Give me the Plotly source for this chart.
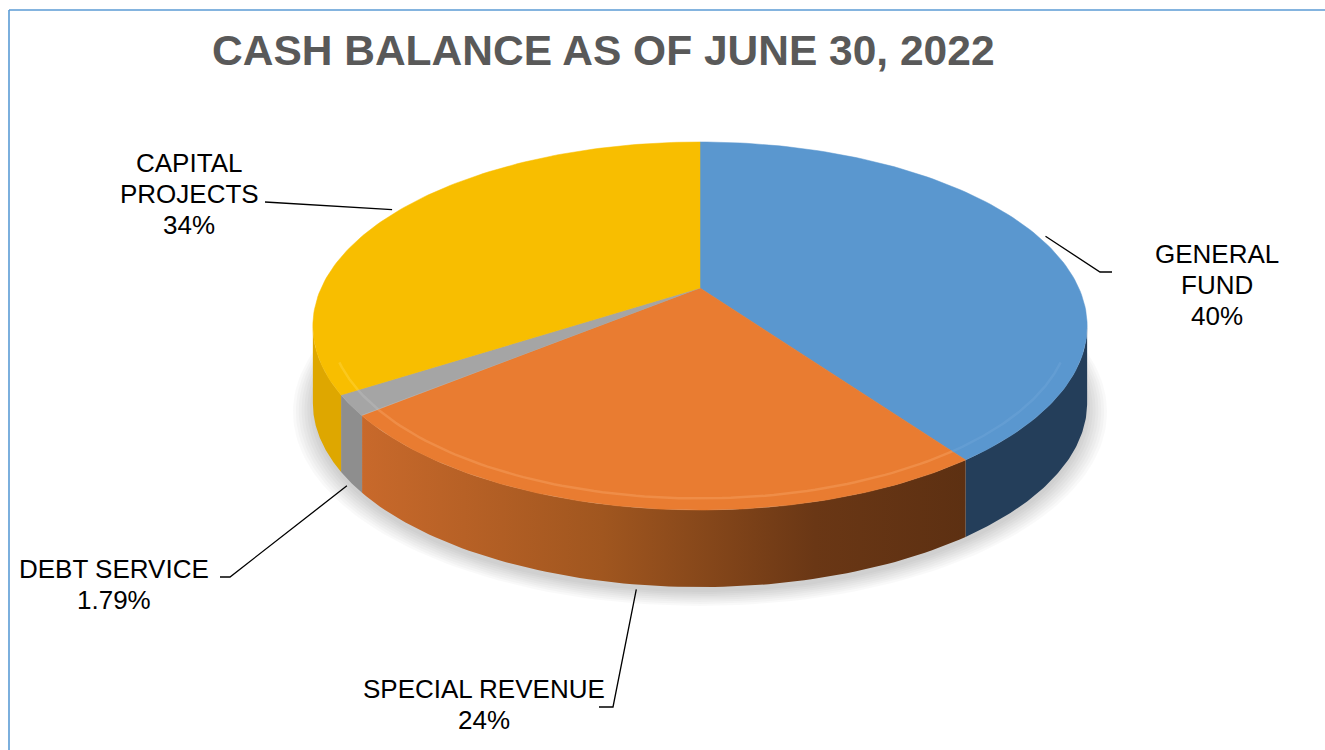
import numpy as np
import plotly.graph_objects as go

categories = ["GENERAL FUND", "SPECIAL REVENUE", "DEBT SERVICE", "CAPITAL PROJECTS"]
values = [40, 24, 1.79, 34]
pct_labels = ["40%", "24%", "1.79%", "34%"]
label_lines = [["GENERAL", "FUND"], ["SPECIAL REVENUE"], ["DEBT SERVICE"], ["CAPITAL", "PROJECTS"]]

TITLE = "CASH BALANCE AS OF JUNE 30, 2022"

TOP_COLORS = ["#5A97CF", "#E97C31", "#A5A5A5", "#F8BE00"]
RIM_COLORS = ["#6FA6D8", "#F7A262", "#BDBDBD", "#FFD640"]
SIDE_COLORS = ["#243E5A", "#9A521F", "#8E8E8E", "#DEA700"]
ORANGE_SIDE = [[0, "#C8692B"], [0.4, "#A0561F"], [0.75, "#6A3715"], [1, "#5D3012"]]
FONT = "Liberation Sans, Arial, sans-serif"

# tilted pie drawn in pixel space (x: 0..1325, y: 0..750 downwards)
CX, CY = 700, 288
A, B, K = 378.8, 176.2, -0.2065
DEPTH = 77
VIS0 = np.degrees(np.arccos(K))
VIS1 = 360 - VIS0

# label block centre, leader elbow points (pixel space)
LABEL_POS = [(1217, 285), (484, 704), (114, 584), (189, 194)]
LEADER_PTS = [[(1100, 272), (1112, 272)], [(613, 707), (599, 707)],
              [(230, 577), (220, 577)], [(265, 202)]]
LINE_STEP = 31


def proj(phi_deg, r=1.0, dz=0.0):
    phi = np.radians(phi_deg)
    X = r * np.sin(phi)
    Y = -r * np.cos(phi)
    d = 1 + K * Y
    return CX + A * X / d, CY + B * Y / d + dz


total = sum(values)
bounds = np.concatenate([[0], np.cumsum(values)]) / total * 360

fig = go.Figure()

# soft shadow under the pie
ring = np.linspace(0, 360, 241)
for i in range(8):
    r = 1.0 + 0.007 * i
    sx, sy = proj(ring, r, DEPTH + 5)
    fig.add_trace(go.Scatter(x=sx, y=sy, mode="lines", fill="toself",
                             fillcolor="rgba(0,0,0,0.022)", line=dict(width=0),
                             hoverinfo="skip", showlegend=False))

# side walls (front half only)
for i in range(len(values)):
    lo, hi = max(bounds[i], VIS0), min(bounds[i + 1], VIS1)
    if lo >= hi:
        continue
    phis = np.linspace(lo, hi, 80)
    tx, ty = proj(phis)
    bx, by = proj(phis[::-1], 1.0, DEPTH)
    kw = dict(fillcolor=SIDE_COLORS[i])
    if i == 1:
        kw = dict(fillgradient=dict(type="horizontal", colorscale=ORANGE_SIDE))
    fig.add_trace(go.Scatter(x=np.concatenate([tx, bx, tx[:1]]),
                             y=np.concatenate([ty, by, ty[:1]]),
                             mode="lines", fill="toself", line=dict(width=0),
                             hoverinfo="skip", showlegend=False, **kw))

# top faces
for i, name in enumerate(categories):
    phis = np.linspace(bounds[i], bounds[i + 1], 120)
    ax, ay = proj(phis)
    fig.add_trace(go.Scatter(x=np.concatenate([[CX], ax, [CX]]),
                             y=np.concatenate([[CY], ay, [CY]]),
                             mode="lines", fill="toself", fillcolor=TOP_COLORS[i],
                             line=dict(width=0.5, color=TOP_COLORS[i]),
                             name=name, hoverinfo="name", showlegend=False))

# bevel highlight along the front rim
for i in range(len(values)):
    lo, hi = max(bounds[i], VIS0 + 12), min(bounds[i + 1], VIS1 - 12)
    if lo >= hi:
        continue
    phis = np.linspace(lo, hi, 80)
    hx, hy = proj(phis, 0.958)
    fig.add_trace(go.Scatter(x=hx, y=hy, mode="lines",
                             line=dict(width=2.5, color=RIM_COLORS[i]), opacity=0.45,
                             hoverinfo="skip", showlegend=False))

# leader lines and labels
shapes = [
    dict(type="line", x0=9, y0=10, x1=1325, y1=10, line=dict(color="#5B9BD5", width=1.6)),
    dict(type="line", x0=9, y0=10, x1=9, y1=750, line=dict(color="#5B9BD5", width=1.6)),
]
annotations = [dict(x=603, y=50, text="<b>" + TITLE + "</b>", showarrow=False,
                    xanchor="center", yanchor="middle",
                    font=dict(family=FONT, size=42.5, color="#595959"))]

for i in range(len(values)):
    mid = (bounds[i] + bounds[i + 1]) / 2
    if VIS0 <= mid <= VIS1:
        sx, sy = proj(mid, 1.01, DEPTH + 2)
    else:
        sx, sy = proj(mid, 1.02)
    pts = [(float(sx), float(sy))] + LEADER_PTS[i]
    path = "M " + " L ".join(f"{px:.1f},{py:.1f}" for px, py in pts)
    shapes.append(dict(type="path", path=path, line=dict(color="black", width=1.3)))

    lines = label_lines[i] + [pct_labels[i]]
    lx, ly = LABEL_POS[i]
    y0 = ly - (len(lines) - 1) * LINE_STEP / 2
    for j, t in enumerate(lines):
        annotations.append(dict(x=lx, y=y0 + j * LINE_STEP, text=t, showarrow=False,
                                xanchor="center", yanchor="middle",
                                font=dict(family=FONT, size=26, color="black")))

fig.update_layout(
    width=1325, height=750,
    margin=dict(l=0, r=0, t=0, b=0),
    paper_bgcolor="white", plot_bgcolor="white",
    xaxis=dict(range=[0, 1325], visible=False, fixedrange=True),
    yaxis=dict(range=[750, 0], visible=False, fixedrange=True),
    shapes=shapes,
    annotations=annotations,
    showlegend=False,
)

fig.write_html("out.html", config={"displayModeBar": False},
               post_script="document.body.style.margin='0';")
